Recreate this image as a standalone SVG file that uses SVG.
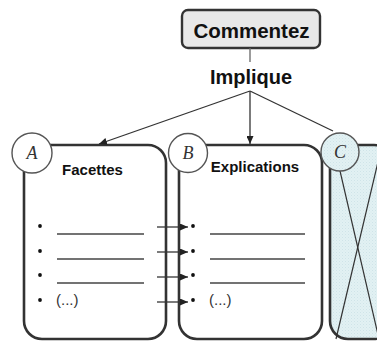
<svg xmlns="http://www.w3.org/2000/svg" width="377" height="341" viewBox="0 0 377 341">
<defs>
<style>
.box{fill:#fff;stroke:#333;stroke-width:2.6}
.boxc{fill:url(#dots);stroke:#333;stroke-width:2.6}
.circ{fill:#fff;stroke:#555;stroke-width:1.4}
.circc{fill:url(#dots);stroke:#555;stroke-width:1.4}
.letter{font-family:"Liberation Serif","DejaVu Serif",serif;font-style:italic;font-size:18px;fill:#333;text-anchor:middle}
.title{font-family:"Liberation Sans",Arial,sans-serif;font-weight:bold;font-size:15px;fill:#111;text-anchor:middle}
.big{font-family:"Liberation Sans",Arial,sans-serif;font-weight:bold;font-size:20.5px;fill:#111;text-anchor:middle}
.item{font-family:"Liberation Sans",Arial,sans-serif;font-size:15px;fill:#333}
.rule{stroke:#444;stroke-width:1.4}
.conn{stroke:#333;stroke-width:1.3;fill:none}
.dot{fill:#111}
.x{stroke:#333;stroke-width:1.2}
</style>
<pattern id="dots" width="3" height="3" patternUnits="userSpaceOnUse">
<rect width="3" height="3" fill="#e2f1f3"/>
<rect x="0" y="0" width="1" height="1" fill="#cfe4e8"/>
<rect x="1.5" y="1.5" width="1" height="1" fill="#d6eaed"/>
</pattern>
<marker id="arr" markerWidth="8" markerHeight="7" refX="8" refY="3.5" orient="auto" markerUnits="userSpaceOnUse">
<path d="M0,0 L8,3.5 L0,7 z" fill="#222"/>
</marker>
</defs>

<g id="commentez">
<rect x="182" y="10" width="138" height="38" rx="6" fill="#e8e8e8" stroke="#333" stroke-width="2.4"/>
<text class="big" x="251.5" y="37.5">Commentez</text>
</g>

<g id="implique">
<text class="big" x="251" y="84" style="font-size:20px">Implique</text>
</g>

<g id="nodeA">
<rect class="box" x="24" y="145" width="142" height="194" rx="18"/>
<text class="title" x="92.5" y="175">Facettes</text>
<circle class="dot" cx="40" cy="226" r="1.9"/>
<circle class="dot" cx="40" cy="251" r="1.9"/>
<circle class="dot" cx="40" cy="275" r="1.9"/>
<circle class="dot" cx="40" cy="300" r="1.9"/>
<line class="rule" x1="57" y1="234" x2="144" y2="234"/>
<line class="rule" x1="57" y1="259" x2="144" y2="259"/>
<line class="rule" x1="57" y1="283" x2="144" y2="283"/>
<text class="item" x="56" y="305">(...)</text>
<circle class="circ" cx="32" cy="153" r="20"/>
<text class="letter" x="32" y="159">A</text>
</g>

<g id="nodeB">
<rect class="box" x="179" y="145" width="143" height="194" rx="18"/>
<text class="title" x="255" y="172">Explications</text>
<circle class="dot" cx="193" cy="226" r="1.9"/>
<circle class="dot" cx="193" cy="251" r="1.9"/>
<circle class="dot" cx="193" cy="275" r="1.9"/>
<circle class="dot" cx="193" cy="300" r="1.9"/>
<line class="rule" x1="210" y1="234" x2="305" y2="234"/>
<line class="rule" x1="210" y1="259" x2="305" y2="259"/>
<line class="rule" x1="210" y1="283" x2="305" y2="283"/>
<text class="item" x="209" y="305">(...)</text>
<circle class="circ" cx="188" cy="153" r="19.5"/>
<text class="letter" x="188" y="159">B</text>
</g>

<g id="nodeC">
<rect class="boxc" x="330" y="145" width="62" height="194" rx="18"/>
<line class="x" x1="334" y1="145" x2="379" y2="339"/>
<line class="x" x1="382" y1="145" x2="336" y2="339"/>
<circle class="circc" cx="340" cy="152" r="19"/>
<text class="letter" x="340" y="158">C</text>
</g>

<g id="connectors">
<line class="conn" x1="250" y1="48" x2="250" y2="62" style="stroke:#666"/>
<line class="conn" x1="250" y1="91" x2="99" y2="144" marker-end="url(#arr)"/>
<line class="conn" x1="250" y1="91" x2="250" y2="144" marker-end="url(#arr)"/>
<line class="conn" x1="250" y1="91" x2="333" y2="131"/>
<line class="conn" x1="157" y1="227" x2="188" y2="227" marker-end="url(#arr)"/>
<line class="conn" x1="157" y1="252" x2="188" y2="252" marker-end="url(#arr)"/>
<line class="conn" x1="157" y1="277" x2="188" y2="277" marker-end="url(#arr)"/>
<line class="conn" x1="157" y1="302" x2="188" y2="302" marker-end="url(#arr)"/>
</g>
</svg>
